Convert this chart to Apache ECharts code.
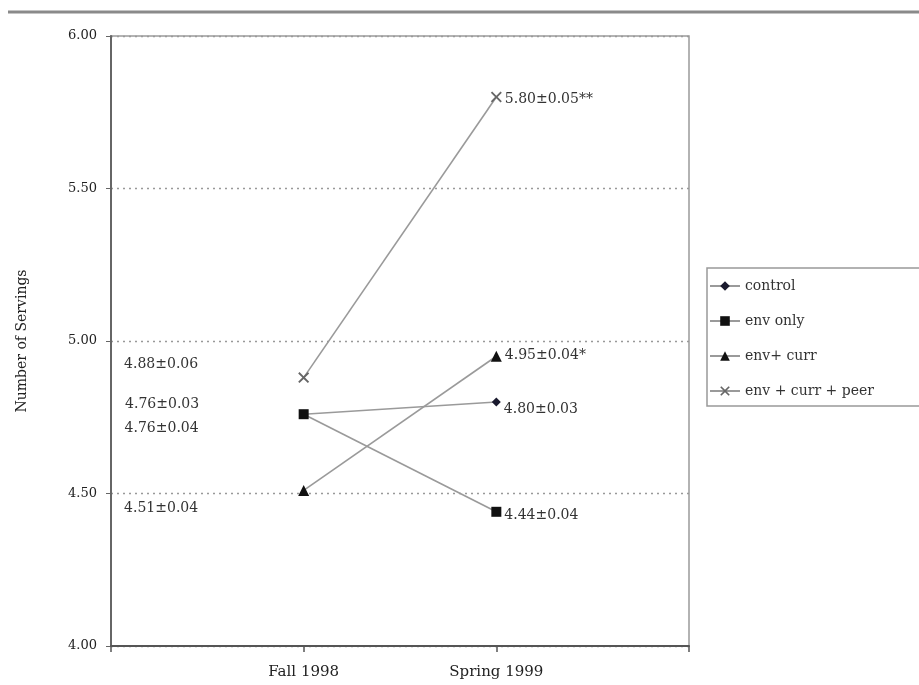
<!DOCTYPE html>
<html><head><meta charset="utf-8">
<script src="https://cdn.jsdelivr.net/npm/echarts@6/dist/echarts.min.js"></script>
<style>html,body{margin:0;padding:0;background:#fff}#c{width:919px;height:685px}</style>
</head><body><div id="c"></div>
<script>
var categories = ['', 'Fall 1998', 'Spring 1999', ''];
var seriesNames = ['control', 'env only', 'env+ curr', 'env + curr + peer'];
var controlVals = [null, 4.76, 4.80, null];
var envOnlyVals = [null, 4.76, 4.44, null];
var envCurrVals = [null, 4.51, 4.95, null];
var peerVals = [null, 4.88, 5.80, null];
var controlLabels = ['', '4.76\u00b10.03', '4.80\u00b10.03', ''];
var envOnlyLabels = ['', '4.76\u00b10.04', '4.44\u00b10.04', ''];
var envCurrLabels = ['', '4.51\u00b10.04', '4.95\u00b10.04*', ''];
var peerLabels = ['', '4.88\u00b10.06', '5.80\u00b10.05**', ''];
var yTicks = [4.00, 4.50, 5.00, 5.50, 6.00];

var FONT = '"DejaVu Serif", "Liberation Serif", serif';
var xShape = 'path://M0,1.2 L1.2,0 L5,3.8 L8.8,0 L10,1.2 L6.2,5 L10,8.8 L8.8,10 L5,6.2 L1.2,10 L0,8.8 L3.8,5 Z';

// per-point label placement (style only)
var leftOffsets = {control: [0, -10], envOnly: [0, 14], envCurr: [0, 18], peer: [0, -13]};
var rightOffsets = {control: [0, 7], envOnly: [0, 4], envCurr: [0, -1], peer: [0, 2]};

function mkData(vals, labels, key) {
  return vals.map(function (v, i) {
    if (v === null) return null;
    var isLeft = (i === 1);
    return {
      value: v,
      label: {
        show: true,
        formatter: labels[i],
        position: isLeft ? 'left' : 'right',
        distance: isLeft ? 100 : 3,
        offset: isLeft ? leftOffsets[key] : rightOffsets[key],
        fontFamily: FONT, fontSize: 14, color: '#333'
      }
    };
  });
}

var lineCol = '#9a9a9a';
function mkSeries(name, vals, labels, key, symbol, size, col) {
  return {
    name: name, type: 'line', data: mkData(vals, labels, key),
    symbol: symbol, symbolSize: size, showSymbol: true,
    lineStyle: {color: lineCol, width: 1.6},
    itemStyle: {color: col},
    connectNulls: false, animation: false, z: 3
  };
}

var chart = echarts.init(document.getElementById('c'));
chart.setOption({
  animation: false,
  backgroundColor: '#fff',
  graphic: [{
    type: 'line', shape: {x1: 8, y1: 12, x2: 919, y2: 12},
    style: {stroke: '#8a8a8a', lineWidth: 3}
  }],
  grid: {left: 111, right: 230, top: 36, bottom: 39, show: true, borderColor: '#9a9a9a', borderWidth: 1.5},
  legend: {
    orient: 'vertical', left: 707, top: 268,
    data: seriesNames,
    backgroundColor: '#fff', borderColor: '#999', borderWidth: 1.5,
    padding: [11, 60, 8, 2], itemGap: 21, itemWidth: 30, itemHeight: 12,
    textStyle: {fontFamily: FONT, fontSize: 14, color: '#333'}
  },
  xAxis: {
    type: 'category', data: categories, boundaryGap: false,
    axisLine: {lineStyle: {color: '#555', width: 2}},
    axisTick: {show: true, length: 6, lineStyle: {color: '#555', width: 1.5}, alignWithLabel: true},
    axisLabel: {
      interval: 0, margin: 19, fontFamily: FONT, fontSize: 15, color: '#222'
    },
    splitLine: {show: false}
  },
  yAxis: {
    type: 'value', min: yTicks[0], max: yTicks[yTicks.length - 1], interval: 0.5,
    name: 'Number of Servings', nameLocation: 'middle', nameGap: 82, nameRotate: 90,
    nameTextStyle: {fontFamily: FONT, fontSize: 14, color: '#222'},
    axisLine: {show: true, lineStyle: {color: '#666', width: 2}},
    axisTick: {show: true, length: 5, lineStyle: {color: '#666'}},
    axisLabel: {
      margin: 14, fontFamily: FONT, fontSize: 13, color: '#222',
      formatter: function (v) { return v.toFixed(2); }
    },
    splitLine: {show: true, lineStyle: {type: [2, 4], color: '#999', width: 1.3}}
  },
  series: [
    mkSeries(seriesNames[0], controlVals, controlLabels, 'control', 'diamond', 9, '#1a1a2e'),
    mkSeries(seriesNames[1], envOnlyVals, envOnlyLabels, 'envOnly', 'rect', 10, '#111'),
    mkSeries(seriesNames[2], envCurrVals, envCurrLabels, 'envCurr', 'triangle', 11, '#111'),
    mkSeries(seriesNames[3], peerVals, peerLabels, 'peer', xShape, 11, '#666')
  ]
});
</script></body></html>
